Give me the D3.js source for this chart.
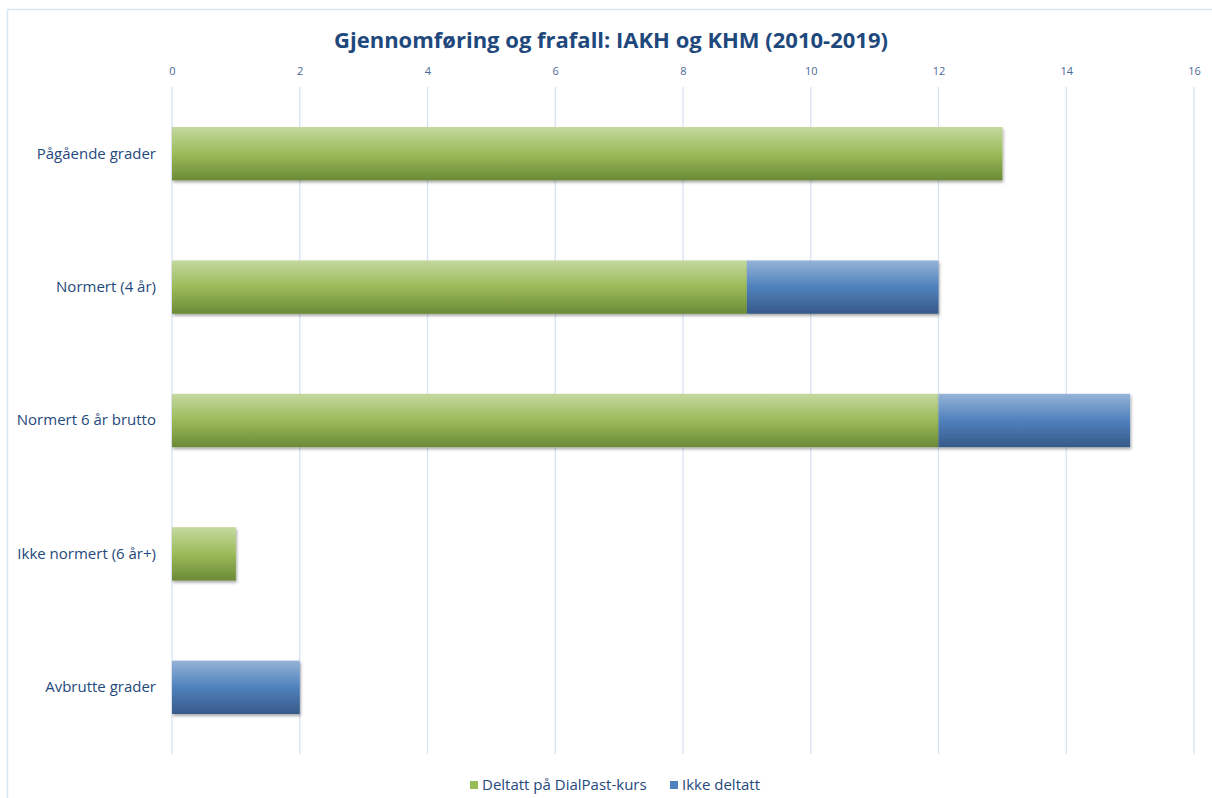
<!DOCTYPE html>
<html>
<head>
<meta charset="utf-8">
<script src="https://cdn.jsdelivr.net/npm/d3@7"></script>
<style>
  body { margin: 0; background: #fff; }
  svg { display: block; font-family: "Open Sans", "Noto Sans", sans-serif; }
</style>
</head>
<body>
<svg id="chart" width="1212" height="798"></svg>
<script>
// data
var categories = ["Pågående grader", "Normert (4 år)", "Normert 6 år brutto", "Ikke normert (6 år+)", "Avbrutte grader"];
var deltatt = [13, 9, 12, 1, 0];
var ikkeDeltatt = [0, 3, 3, 0, 2];
var seriesNames = ["Deltatt på DialPast-kurs", "Ikke deltatt"];
var xTicks = [0, 2, 4, 6, 8, 10, 12, 14, 16];

var margin = {top: 87, right: 18, bottom: 44, left: 172},
    width = 1212 - margin.left - margin.right,
    height = 798 - margin.top - margin.bottom;

var svg = d3.select("#chart");

// chart area border
svg.append("rect")
    .attr("x", 7.5).attr("y", 9.5)
    .attr("width", 1220).attr("height", 800)
    .attr("fill", "none")
    .attr("stroke", "#d9e4f1")
    .attr("stroke-width", 1.5);

var defs = svg.append("defs");
function grad(id, c1, c2, c3) {
    var g = defs.append("linearGradient").attr("id", id)
        .attr("x1", 0).attr("y1", 0).attr("x2", 0).attr("y2", 1);
    g.append("stop").attr("offset", "0%").attr("stop-color", c1);
    g.append("stop").attr("offset", "50%").attr("stop-color", c2);
    g.append("stop").attr("offset", "100%").attr("stop-color", c3);
}
grad("gGreen", "#c4d89f", "#9bbb59", "#6b8a37");
grad("gBlue", "#95b3d7", "#4f81bd", "#375a88");

var shadow = defs.append("filter").attr("id", "shadow")
    .attr("x", "-5%").attr("y", "-20%").attr("width", "110%").attr("height", "150%");
shadow.append("feDropShadow").attr("dx", 1).attr("dy", 2).attr("stdDeviation", 1.5)
    .attr("flood-color", "#000").attr("flood-opacity", 0.35);

var g = svg.append("g")
    .attr("transform", "translate(" + margin.left + "," + margin.top + ")");

var x = d3.scaleLinear().domain([0, 16]).range([0, 1022]);
var y = d3.scaleBand().domain(categories).range([0, height]).paddingInner(0.6).paddingOuter(0.3);

// gridlines
g.selectAll(".grid")
    .data(xTicks)
    .enter().append("line")
    .attr("x1", function(d) { return x(d); })
    .attr("x2", function(d) { return x(d); })
    .attr("y1", 0).attr("y2", height)
    .attr("stroke", "#d8e3f4")
    .attr("stroke-width", 1.3);

// top axis labels
var xAxis = g.append("g")
    .call(d3.axisTop(x).tickValues(xTicks).tickSize(0).tickPadding(12));
xAxis.select(".domain").remove();
xAxis.selectAll("text")
    .attr("fill", "#4a6a96")
    .style("font-size", "11px")
    .style("font-family", "Open Sans, sans-serif");

// category labels
var yAxis = g.append("g")
    .call(d3.axisLeft(y).tickSize(0).tickPadding(16));
yAxis.select(".domain").remove();
yAxis.selectAll("text")
    .attr("fill", "#1f497d")
    .style("font-size", "15px")
    .style("font-family", "Open Sans, sans-serif");

// stacked bars
var rows = categories.map(function(c, i) {
    return {cat: c, a: deltatt[i], b: ikkeDeltatt[i]};
});

g.selectAll(".barA")
    .data(rows.filter(function(d) { return d.a > 0; }))
    .enter().append("rect")
    .attr("x", x(0))
    .attr("y", function(d) { return y(d.cat); })
    .attr("width", function(d) { return x(d.a) - x(0); })
    .attr("height", y.bandwidth())
    .attr("fill", "url(#gGreen)")
    .attr("filter", "url(#shadow)");

g.selectAll(".barB")
    .data(rows.filter(function(d) { return d.b > 0; }))
    .enter().append("rect")
    .attr("x", function(d) { return x(d.a); })
    .attr("y", function(d) { return y(d.cat); })
    .attr("width", function(d) { return x(d.a + d.b) - x(d.a); })
    .attr("height", y.bandwidth())
    .attr("fill", "url(#gBlue)")
    .attr("filter", "url(#shadow)");

// title
svg.append("text")
    .attr("x", 611).attr("y", 48)
    .attr("text-anchor", "middle")
    .attr("fill", "#1f497d")
    .style("font-size", "22px")
    .style("font-weight", "bold")
    .text("Gjennomføring og frafall: IAKH og KHM (2010-2019)");

// legend
var legend = svg.append("g").attr("transform", "translate(470,785)");
var legendColors = ["#9bbb59", "#4f81bd"];
var lx = [0, 200];
seriesNames.forEach(function(name, i) {
    var item = legend.append("g").attr("transform", "translate(" + lx[i] + ",0)");
    item.append("rect").attr("x", 0).attr("y", -4).attr("width", 8).attr("height", 8)
        .attr("fill", legendColors[i]);
    item.append("text").attr("x", 12).attr("y", 5)
        .attr("fill", "#1f497d")
        .style("font-size", "15px")
        .text(name);
});
</script>
</body>
</html>
